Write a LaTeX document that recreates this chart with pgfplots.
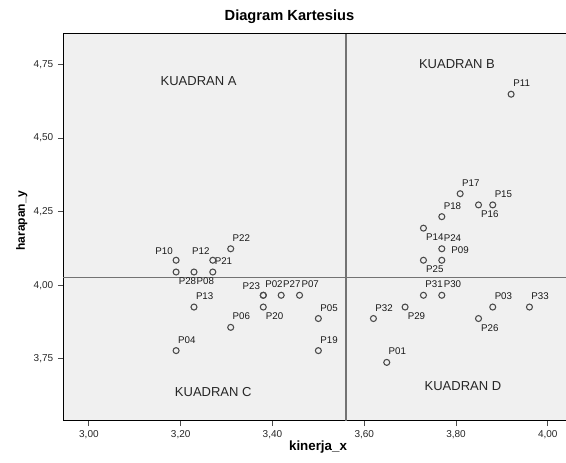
\documentclass[border=0pt]{standalone}
\usepackage{fontspec}
\setmainfont{Liberation Sans}
\usepackage{pgfplots}
\pgfplotsset{compat=1.18}
\usepackage{pgfplotstable}
\definecolor{bg}{HTML}{F0F0F0}
\definecolor{refl}{HTML}{737373}
\definecolor{mk}{HTML}{4A4A4A}

% points whose label sits above-right
\pgfplotstableread{
x y lab
3.309 4.124 P22
3.270 4.045 P21
3.380 3.966 P02
3.419 3.966 P27
3.459 3.966 P07
3.229 3.926 P13
3.500 3.887 P05
3.309 3.857 P06
3.190 3.778 P04
3.500 3.778 P19
3.809 4.311 P17
3.880 4.273 P15
3.769 4.233 P18
3.769 4.124 P24
3.729 3.966 P31
3.769 3.966 P30
3.880 3.926 P03
3.960 3.926 P33
3.620 3.887 P32
3.649 3.738 P01
3.920 4.649 P11
}\ptsAR
% label below-right
\pgfplotstableread{
x y lab
3.190 4.045 P28
3.229 4.045 P08
3.380 3.926 P20
3.849 4.273 P16
3.729 4.194 P14
3.729 4.085 P25
3.689 3.926 P29
3.849 3.887 P26
}\ptsBR
% label above-left
\pgfplotstableread{
x y lab
3.190 4.085 P10
3.270 4.085 P12
3.380 3.966 P23
}\ptsAL
% label far right
\pgfplotstableread{
x y lab
3.769 4.085 P09
}\ptsFR

\pgfplotsset{
  ptstyle/.style={only marks, mark=o, mark size=2.25pt,
    mark options={draw=mk, line width=0.8pt},
    nodes near coords, point meta=explicit symbolic,
    every node near coord/.append style={anchor=center, inner sep=0pt,
      font=\fontsize{7.3}{8}\selectfont, text=black!90, #1}},
}

\begin{document}
\begin{tikzpicture}
\begin{axis}[
  scale only axis,
  width=378.6pt, height=290.1pt,
  xmin=2.944, xmax=4.044, ymin=3.540, ymax=4.854,
  axis background/.style={fill=bg},
  axis line style={black, line width=0.75pt},
  xtick={3,3.2,3.4,3.6,3.8,4},
  ytick={3.75,4,4.25,4.5,4.75},
  xtick pos=bottom, ytick pos=left, tick align=outside,
  major tick length=4pt,
  tick style={color=black!70, line width=0.75pt},
  /pgf/number format/.cd, use comma, fixed, fixed zerofill, precision=2, assume math mode=true,
  /pgfplots/.cd,
  tick label style={font=\fontsize{7.5}{9}\selectfont, text=black!85},
  xlabel={kinerja\_x},
  xlabel style={at={(axis description cs:0.5048,-0.0677)}, anchor=center, font=\bfseries\fontsize{10}{12}\selectfont},
  ylabel={harapan\_y},
  ylabel style={at={(axis description cs:-0.0822,0.5176)}, anchor=center, font=\bfseries\fontsize{9}{11}\selectfont},
]
\addplot[refl, line width=1.2pt, forget plot] coordinates {(3.56,3.540) (3.56,4.854)};
\addplot[refl, line width=1.2pt, forget plot] coordinates {(2.944,4.027) (4.044,4.027)};
\addplot[ptstyle={xshift=8.0pt, yshift=8.1pt}] table[x=x, y=y, meta=lab] {\ptsAR};
\addplot[ptstyle={xshift=8.5pt, yshift=-7.0pt}] table[x=x, y=y, meta=lab] {\ptsBR};
\addplot[ptstyle={xshift=-9.0pt, yshift=6.6pt}] table[x=x, y=y, meta=lab] {\ptsAL};
\addplot[ptstyle={xshift=13.7pt, yshift=7.7pt}] table[x=x, y=y, meta=lab] {\ptsFR};
\node[font=\fontsize{9.75}{11}\selectfont, text=black!85] at (axis cs:3.239,4.692) {KUADRAN A};
\node[font=\fontsize{9.75}{11}\selectfont, text=black!85] at (axis cs:3.802,4.751) {KUADRAN B};
\node[font=\fontsize{9.75}{11}\selectfont, text=black!85] at (axis cs:3.271,3.639) {KUADRAN C};
\node[font=\fontsize{9.75}{11}\selectfont, text=black!85] at (axis cs:3.815,3.659) {KUADRAN D};
\end{axis}
\node[font=\bfseries\fontsize{11}{13}\selectfont, anchor=center] at ([shift={(169.7pt,302.6pt)}]current axis.south west) {Diagram Kartesius};
\pgfresetboundingbox
\path[use as bounding box] ([shift={(-47.4pt,-31pt)}]current axis.south west) rectangle ([shift={(377.1pt,315.5pt)}]current axis.south west);
\end{tikzpicture}
\end{document}
